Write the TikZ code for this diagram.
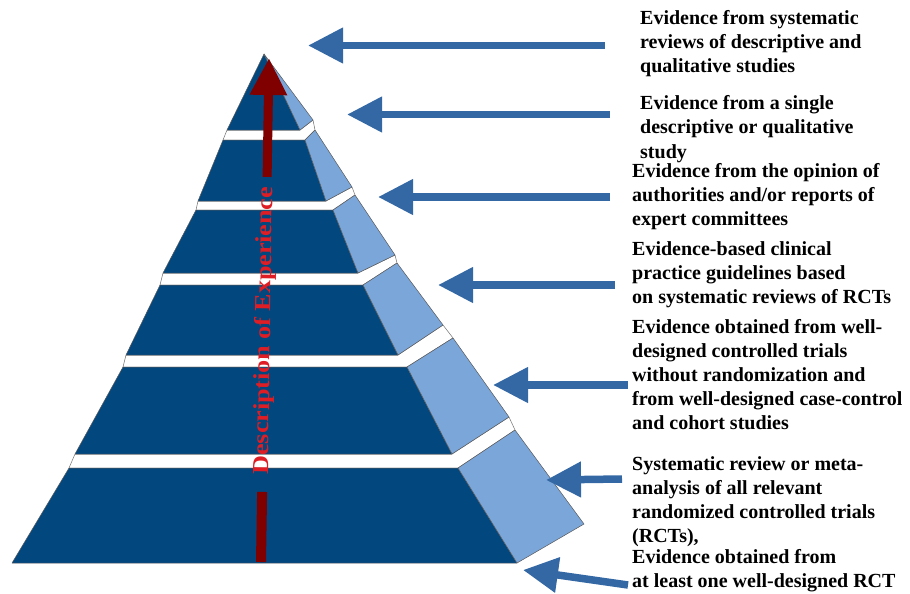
\documentclass[tikz,border=0pt]{standalone}
\usepackage{fontspec}
\setmainfont{Liberation Serif}
\usepackage{graphicx}
\usetikzlibrary{arrows.meta}
\definecolor{pyrdark}{RGB}{3,71,127}
\definecolor{pyrlight}{RGB}{123,166,217}
\definecolor{arrowblue}{RGB}{52,104,165}
\definecolor{axisred}{RGB}{128,0,0}
\definecolor{textred}{RGB}{222,30,36}
\begin{document}
\begin{tikzpicture}[x=1pt,y=-1pt,
  tierdark/.style={fill=pyrdark, draw=black!65, line width=0.5pt, line join=round},
  tierlight/.style={fill=pyrlight, draw=black!65, line width=0.5pt, line join=round},
  topface/.style={fill=white, draw=black!55, line width=0.5pt, line join=round},
  pointer/.style={draw=arrowblue, line width=7.5pt, -{Triangle[length=35pt,width=34pt]}},
  evtext/.style={anchor=base west, inner sep=0pt, font=\bfseries\fontsize{20}{24}\selectfont}
]
\useasboundingbox (0,0) rectangle (910,594);

% white top faces (gaps between tiers)
\draw[topface] (223,140)--(305,140)--(315,130)--(313,120)--(300,130)--(227,130)--cycle;
\draw[topface] (196,210)--(333,210)--(355,195)--(352,187)--(326,201)--(198,201)--cycle;
\draw[topface] (160,285)--(363,285)--(397,263)--(395,255)--(358,273)--(163,273)--cycle;
\draw[topface] (123,367)--(407,367)--(453,338)--(443,325)--(398,355)--(126,355)--cycle;
\draw[topface] (69,468)--(458,468)--(515,430)--(509,417)--(452,454)--(75,454)--cycle;

% tier 1 (apex)
\draw[tierdark] (264,54)--(300,130)--(227,130)--cycle;
\draw[tierlight] (264,54)--(313,120)--(300,130)--cycle;
% tier 2
\draw[tierdark] (223,140)--(305,140)--(326,201)--(198,201)--cycle;
\draw[tierlight] (305,140)--(315,130)--(352,187)--(326,201)--cycle;
% tier 3
\draw[tierdark] (196,210)--(333,210)--(358,273)--(163,273)--cycle;
\draw[tierlight] (333,210)--(355,195)--(395,255)--(358,273)--cycle;
% tier 4
\draw[tierdark] (160,285)--(363,285)--(398,355)--(126,355)--cycle;
\draw[tierlight] (363,285)--(397,263)--(443,325)--(398,355)--cycle;
% tier 5
\draw[tierdark] (123,367)--(407,367)--(452,454)--(75,454)--cycle;
\draw[tierlight] (407,367)--(453,338)--(509,417)--(452,454)--cycle;
% tier 6
\draw[tierdark] (69,468)--(458,468)--(517,563)--(12,563)--cycle;
\draw[tierlight] (458,468)--(515,430)--(584,524)--(517,563)--cycle;

% red axis arrow with label
\coordinate (rb) at (261,562);
\coordinate (rt) at (269,58);
\path (rb) -- (rt) coordinate[pos=0.139] (r1) coordinate[pos=0.764] (r2) coordinate[pos=0.459] (rc);
\draw[axisred, line width=10pt] (rb) -- (r1);
\draw[axisred, line width=9pt, -{Triangle[length=37pt,width=35pt]}] (r2) -- (rt);
\node[rotate=89.1, text=textred, inner sep=0pt, font=\bfseries\fontsize{23}{23}\selectfont] (desc) at (rc) {\scalebox{1.13}[1]{Description of Experience}};

% texts
\node[evtext] (e1) at (640,25) {\begin{tabular}[t]{@{}l@{}}Evidence from systematic\\reviews of descriptive and\\qualitative studies\end{tabular}};
\node[evtext] (e2) at (640,110) {\begin{tabular}[t]{@{}l@{}}Evidence from a single\\descriptive or qualitative\\study\end{tabular}};
\node[evtext] (e3) at (632,177) {\begin{tabular}[t]{@{}l@{}}Evidence from the opinion of\\authorities and/or reports of\\expert committees\end{tabular}};
\node[evtext] (e4) at (632,255) {\begin{tabular}[t]{@{}l@{}}Evidence-based clinical\\practice guidelines based\\on systematic reviews of RCTs\end{tabular}};
\node[evtext] (e5) at (632,333) {\begin{tabular}[t]{@{}l@{}}Evidence obtained from well-\\designed controlled trials\\without randomization and\\from well-designed case-control\\and cohort studies\end{tabular}};
\node[evtext] (e6) at (632,470) {\begin{tabular}[t]{@{}l@{}}Systematic review or meta-\\analysis of all relevant\\randomized controlled trials\\(RCTs),\end{tabular}};
\node[evtext] (e7) at (632,563) {\begin{tabular}[t]{@{}l@{}}Evidence obtained from\\at least one well-designed RCT\end{tabular}};

% pointer arrows
\coordinate (s1) at (605,45.5);  \coordinate (p1) at (308,45.5);
\coordinate (s2) at (610,114.5); \coordinate (p2) at (347,114.5);
\coordinate (s3) at (610,197);   \coordinate (p3) at (378,197);
\coordinate (s4) at (615,285);   \coordinate (p4) at (438,285);
\coordinate (s5) at (628,385);   \coordinate (p5) at (493,385);
\coordinate (s6) at (622,479);   \coordinate (p6) at (546,480);
\coordinate (s7) at (628,585);   \coordinate (p7) at (523,570);
\foreach \i in {1,...,7} { \draw[pointer] (s\i) -- (p\i); }
\end{tikzpicture}
\end{document}
